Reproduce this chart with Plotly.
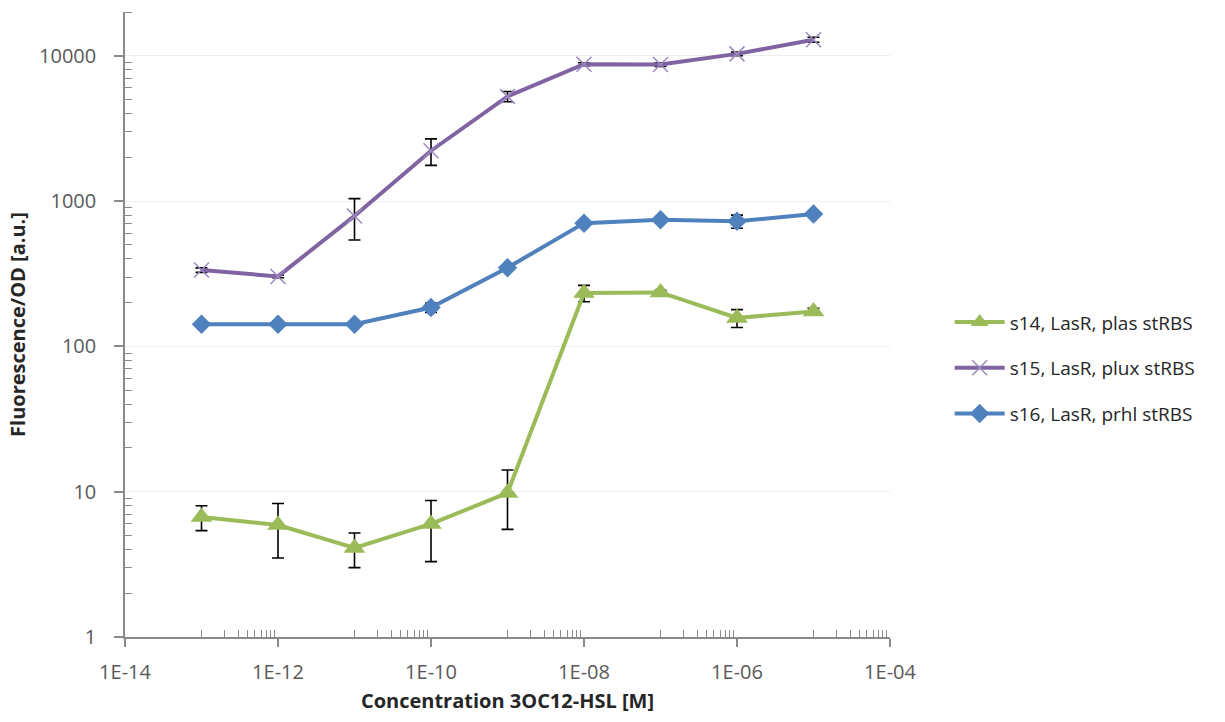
import math
import plotly.graph_objects as go

# 3OC12-HSL concentration series [M]
concentration = [1e-13, 1e-12, 1e-11, 1e-10, 1e-9, 1e-8, 1e-7, 1e-6, 1e-5]

# Fluorescence/OD means and standard deviations per construct
s14_mean = [6.7, 5.9, 4.1, 6.0, 9.8, 233, 235, 157, 174]
s14_err = [1.3, 2.4, 1.1, 2.7, 4.3, 30, 8, 22, 9]

s15_mean = [335, 303, 790, 2220, 5250, 8750, 8700, 10300, 12900]
s15_err = [12, 6, 250, 460, 420, 200, 250, 300, 500]

s16_mean = [142, 142, 142, 185, 348, 705, 745, 725, 815]
s16_err = [3, 3, 3, 14, 12, 20, 10, 75, 20]

series_names = ["s14, LasR, plas stRBS", "s15, LasR, plux stRBS", "s16, LasR, prhl stRBS"]

x_tickvals = [1e-14, 1e-12, 1e-10, 1e-08, 1e-06, 1e-04]
x_ticktext = ["1E-14", "1E-12", "1E-10", "1E-08", "1E-06", "1E-04"]
y_tickvals = [1, 10, 100, 1000, 10000]
y_ticktext = ["1", "10", "100", "1000", "10000"]
y_max = 20000

GREEN = "#9BBB59"
PURPLE = "#8064A2"
BLUE = "#4F81BD"
AXIS = "#8a8a8a"
FONT = "Open Sans"

# minor ticks: x only in the decade before each labelled power, y in every decade
x_minor = [k * 10.0 ** e for e in (-13, -11, -9, -7, -5) for k in range(1, 10)]
y_minor = [k * 10.0 ** e for e in range(0, 4) for k in range(2, 10)] + [y_max]

err_style = dict(type="data", visible=True, color="black", thickness=1.6, width=6)

fig = go.Figure()

fig.add_trace(go.Scatter(
    x=concentration, y=s14_mean, name=series_names[0], legendgroup="a",
    mode="lines+markers",
    line=dict(color=GREEN, width=4),
    marker=dict(symbol="triangle-up", size=19, color=GREEN),
    error_y=dict(array=s14_err, **err_style),
))
fig.add_trace(go.Scatter(
    x=concentration, y=s15_mean, name=series_names[1], legendgroup="b",
    mode="lines+markers",
    line=dict(color=PURPLE, width=4),
    marker=dict(symbol="x-thin-open", size=15, color="#9d88c2",
                line=dict(color="#9d88c2", width=1.5)),
    error_y=dict(array=s15_err, **err_style),
))
fig.add_trace(go.Scatter(
    x=concentration, y=s16_mean, name=series_names[2], legendgroup="c",
    mode="lines+markers",
    line=dict(color=BLUE, width=4),
    marker=dict(symbol="diamond", size=15, color=BLUE),
    error_y=dict(array=s16_err, **err_style),
))

fig.update_layout(
    width=1225, height=722,
    margin=dict(l=125, r=335, t=12, b=85),
    paper_bgcolor="white", plot_bgcolor="white",
    font=dict(family=FONT, size=20, color="#595959"),
    showlegend=True,
    legend=dict(
        x=1.078, y=0.43, xanchor="left", yanchor="middle",
        font=dict(family=FONT, size=19, color="#262626"),
        traceorder="grouped", tracegroupgap=18, itemwidth=50,
        bgcolor="rgba(0,0,0,0)",
    ),
)

fig.update_xaxes(
    type="log", range=[-14, -4],
    tickmode="array", tickvals=x_tickvals, ticktext=x_ticktext,
    ticks="outside", ticklen=8, tickwidth=1.5, tickcolor=AXIS,
    showline=True, linecolor=AXIS, linewidth=1.5,
    showgrid=False, zeroline=False,
    tickfont=dict(family=FONT, size=20, color="#595959"),
    ticklabelstandoff=8,
    minor=dict(tickmode="array", tickvals=x_minor, ticks="inside",
               ticklen=7, tickwidth=1.2, tickcolor=AXIS, showgrid=False),
    title=dict(text="<b>Concentration 3OC12-HSL [M]</b>",
               font=dict(family=FONT, size=20, color="#262626"), standoff=10),
)

fig.update_yaxes(
    type="log", range=[0, math.log10(y_max) + 1e-4],
    tickmode="array", tickvals=y_tickvals, ticktext=y_ticktext,
    ticks="outside", ticklen=9, tickwidth=1.5, tickcolor=AXIS,
    showline=True, linecolor=AXIS, linewidth=1.5,
    showgrid=True, gridcolor="#eeeeee", gridwidth=1,
    zeroline=False,
    tickfont=dict(family=FONT, size=20, color="#595959"),
    ticklabelstandoff=14,
    minor=dict(tickmode="array", tickvals=y_minor, ticks="inside",
               ticklen=7, tickwidth=1.2, tickcolor=AXIS, showgrid=False),
    title=dict(text="<b>Fluorescence/OD [a.u.]</b>",
               font=dict(family=FONT, size=20, color="#262626"), standoff=8),
)

fig.write_html("out.html")
